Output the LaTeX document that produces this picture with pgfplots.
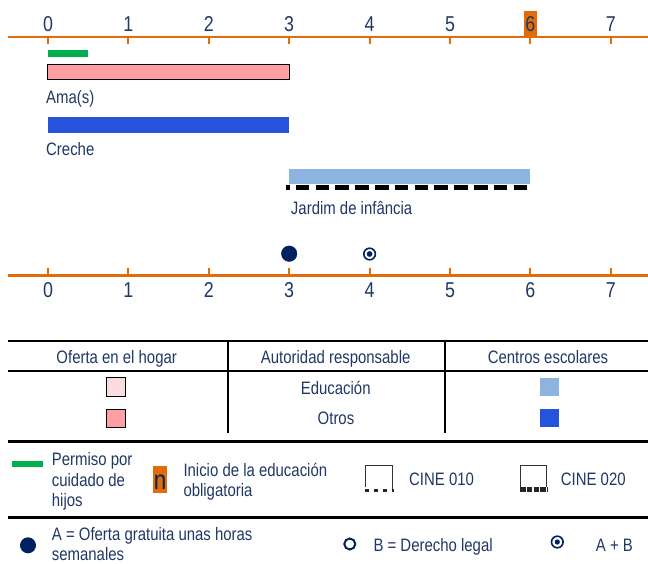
\documentclass[border=0pt]{standalone}
\usepackage{fontspec}
\setmainfont[FakeStretch=0.83]{Liberation Sans}
\usepackage{pgfplots}
\pgfplotsset{compat=1.18}
\definecolor{txt}{HTML}{1F3864}
\definecolor{orl}{HTML}{E36C0A}
\definecolor{grn}{HTML}{00B050}
\definecolor{pinkb}{HTML}{FF9EA5}
\definecolor{pinkl}{HTML}{FADCDE}
\definecolor{blueb}{HTML}{2553DB}
\definecolor{bluel}{HTML}{8DB4DF}
\definecolor{navy}{HTML}{002060}
\tikzset{
  lbl/.style={anchor=base west, inner sep=0pt, text=txt, font=\fontsize{18}{20}\selectfont},
  clbl/.style={anchor=base, inner sep=0pt, text=txt, font=\fontsize{18}{20}\selectfont},
  tlbl/.style={anchor=base, inner sep=0pt, text=txt, font=\fontsize{21.5}{21.5}\selectfont},
}
\begin{document}
\begin{tikzpicture}[x=1pt,y=1pt]
\useasboundingbox (0,0) rectangle (648,-564);
\begin{axis}[at={(0,0)}, anchor=north west, width=648pt, height=564pt,
  scale only axis, hide axis, clip=false,
  xmin=-0.597, xmax=7.463, ymin=-564, ymax=0]
% number lines
\fill[orl] (axis cs:5.92,-11) rectangle (axis cs:6.08,-37);
\draw[orl,line width=2.5pt] (axis cs:-0.5,-37) -- (axis cs:7.463,-37);
\draw[orl,line width=2.5pt] (axis cs:-0.5,-275.7) -- (axis cs:7.463,-275.7);
\pgfplotsinvokeforeach{0,1,2,3,4,5,6,7}{
  \draw[orl,line width=2pt] (axis cs:#1,-37) -- (axis cs:#1,-44.3);
  \draw[orl,line width=2pt] (axis cs:#1,-267.7) -- (axis cs:#1,-275.7);
  \node[tlbl] at (axis cs:#1,-31.7) {#1};
  \node[tlbl] at (axis cs:#1,-298) {#1};
}
% Permiso por cuidado de hijos: 0 - 0.5
\addplot[draw=none, fill=grn] coordinates {(0,-50) (0.5,-50) (0.5,-57) (0,-57)} -- cycle;
% Ama(s): 0 - 3
\addplot[draw=black, line width=1pt, fill=pinkb] coordinates {(0,-64.3) (3,-64.3) (3,-79.3) (0,-79.3)} -- cycle;
\node[lbl] at (axis cs:-0.025,-103.7) {Ama(s)};
% Creche: 0 - 3
\addplot[draw=none, fill=blueb] coordinates {(0,-116.7) (3,-116.7) (3,-132.7) (0,-132.7)} -- cycle;
\node[lbl] at (axis cs:-0.025,-155.7) {Creche};
% Jardim de infancia: 3 - 6
\addplot[draw=none, fill=bluel] coordinates {(3,-169) (6,-169) (6,-184.3) (3,-184.3)} -- cycle;
\addplot[black, line width=5pt, dash pattern=on 13.6pt off 6.2pt, dash phase=9.6pt] coordinates {(2.955,-188) (6.0,-188)};
\node[lbl] at (axis cs:3.02,-215) {Jardim de infância};
% A: free hours at 3 ; A+B at 4
\addplot[only marks, mark=*, mark size=7.8pt, navy, mark options={draw=navy, fill=navy}] coordinates {(3,-253.7)};
\addplot[only marks, mark=o, mark size=5.8pt, navy, mark options={line width=1.6pt}] coordinates {(4,-254)};
\addplot[only marks, mark=*, mark size=2.6pt, navy, mark options={draw=navy, fill=navy}] coordinates {(4,-254)};
\end{axis}

% ---- legend table ----
\draw[line width=2.6pt] (8,-341) -- (648,-341);
\draw[line width=2.6pt] (8,-371) -- (648,-371);
\draw[line width=2.2pt] (228,-341) -- (228,-433);
\draw[line width=2.2pt] (445,-341) -- (445,-433);
\draw[line width=2.6pt] (8,-441.5) -- (648,-441.5);
\draw[line width=2.6pt] (8,-517.5) -- (648,-517.5);

\node[clbl] at (116.7,-363) {Oferta en el hogar};
\node[clbl] at (335.7,-363) {Autoridad responsable};
\node[clbl] at (548,-363) {Centros escolares};

\filldraw[fill=pinkl, draw=black, line width=0.9pt] (106.5,-377.8) rectangle (125.7,-396.4);
\node[clbl] at (335.7,-394) {Educación};
\fill[bluel] (540,-377.5) rectangle (559,-395.6);

\filldraw[fill=pinkb, draw=black, line width=0.9pt] (106.5,-409) rectangle (125.7,-427.2);
\node[clbl] at (336,-424.4) {Otros};
\fill[blueb] (540,-408.7) rectangle (559,-427.4);

% row 2
\fill[grn] (12,-460.7) rectangle (42.7,-467.3);
\node[lbl] at (51.7,-465) {Permiso por};
\node[lbl] at (51.7,-486) {cuidado de};
\node[lbl] at (51.7,-506) {hijos};

\fill[orl] (153.3,-466) rectangle (166.7,-493.3);
\node[anchor=base, inner sep=0pt, text=navy, font=\fontsize{27}{27}\selectfont] at (160,-489.3) {n};
\node[lbl] at (183.3,-476) {Inicio de la educación};
\node[lbl] at (183.3,-496) {obligatoria};

\draw[line width=1pt, black!80] (365.5,-487) -- (365.5,-465) -- (392.3,-465) -- (392.3,-490);
\draw[line width=2.4pt, black!85, dash pattern=on 4pt off 5pt] (365,-490.5) -- (393.5,-490.5);
\node[lbl] at (409,-485.7) {CINE 010};

\draw[line width=1pt, black!80] (520.5,-487) -- (520.5,-465) -- (546.5,-465) -- (546.5,-487);
\draw[line width=4.3pt, black!85, dash pattern=on 5.5pt off 1.3pt] (520,-489.5) -- (547.5,-489.5);
\node[lbl] at (560.7,-485.7) {CINE 020};

% row 3
\fill[navy] (28,-545.3) circle (8);
\node[lbl] at (51.7,-540) {A = Oferta gratuita unas horas};
\node[lbl] at (51.7,-560) {semanales};

\draw[navy, line width=2pt] (349.8,-544) circle (5.5);
\node[lbl] at (373.3,-551) {B = Derecho legal};

\draw[navy, line width=1.6pt] (557.3,-542) circle (5.8);
\fill[navy] (557.3,-542) circle (2.6);
\node[lbl] at (595.7,-551) {A + B};
\end{tikzpicture}
\end{document}
